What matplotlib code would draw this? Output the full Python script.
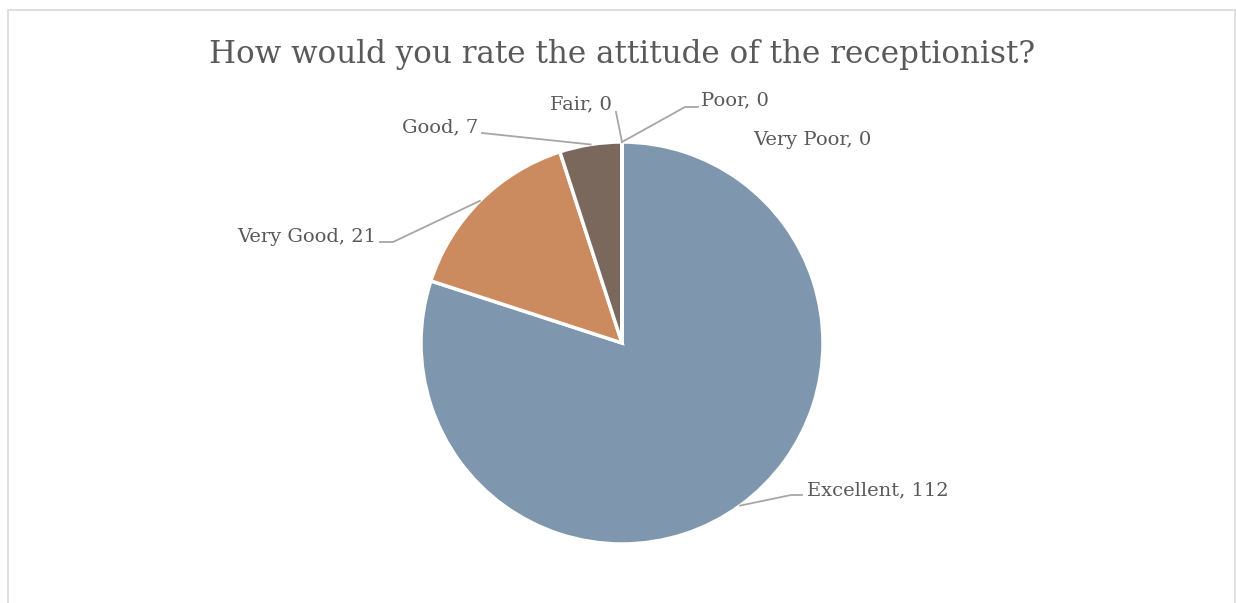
import matplotlib.pyplot as plt
import numpy as np
from matplotlib.patches import Rectangle

# Survey data
categories = ['Excellent', 'Very Good', 'Good', 'Fair', 'Poor', 'Very Poor']
counts = [112, 21, 7, 0, 0, 0]
colors = ['#7f97ae', '#cb8b5e', '#7a685c', '#a5a5a5', '#8fa9c4', '#d9a27a']

W, H = 1236, 603
fig = plt.figure(figsize=(W / 100, H / 100), dpi=100)
ax = fig.add_axes([0, 0, 1, 1])

font = 'DejaVu Serif'
txt_color = '#595959'
line_color = '#a6a6a6'

# chart frame
ax.add_patch(Rectangle((8, -20), 1227, H - 10 + 20, fill=False, edgecolor='#d9d9d9', linewidth=1.2))

cx, cy, r = 622, H - 343, 201
wedges, _ = ax.pie(counts, colors=colors, startangle=90, counterclock=False,
                   center=(cx, cy), radius=r, frame=True,
                   wedgeprops=dict(edgecolor='white', linewidth=2.5))
ax.set_xlim(0, W)
ax.set_ylim(0, H)
ax.set_aspect('equal')
ax.axis('off')

ax.text(W / 2 + 4, H - 55, 'How would you rate the attitude of the receptionist?',
        ha='center', va='center', fontsize=22.3, color=txt_color, family=font)

# label layout: (text x, text y, ha, elbow points) in pixel coords (y from top)
layout = {
    'Excellent': (807, 490, 'left', [(791, 495), (802, 495)]),
    'Very Good': (376, 237, 'right', [(393, 242), (380, 242)]),
    'Good': (478, 127, 'right', [(482, 133)]),
    'Fair': (612, 104, 'right', [(616, 112)]),
    'Poor': (701, 100, 'left', [(685, 107), (698, 107)]),
    'Very Poor': (753, 140, 'left', []),
}

for w, cat, n in zip(wedges, categories, counts):
    tx, ty, ha, elbow = layout[cat]
    ang = np.deg2rad((w.theta1 + w.theta2) / 2)
    px = cx + r * np.cos(ang)
    py = cy + r * np.sin(ang)
    if elbow:
        xs = [px] + [e[0] for e in elbow]
        ys = [py] + [H - e[1] for e in elbow]
        ax.plot(xs, ys, color=line_color, linewidth=1.3)
    ax.text(tx, H - ty, f'{cat}, {n}', ha=ha, va='center', fontsize=14,
            color=txt_color, family=font)

plt.savefig('out.png', dpi=100)
